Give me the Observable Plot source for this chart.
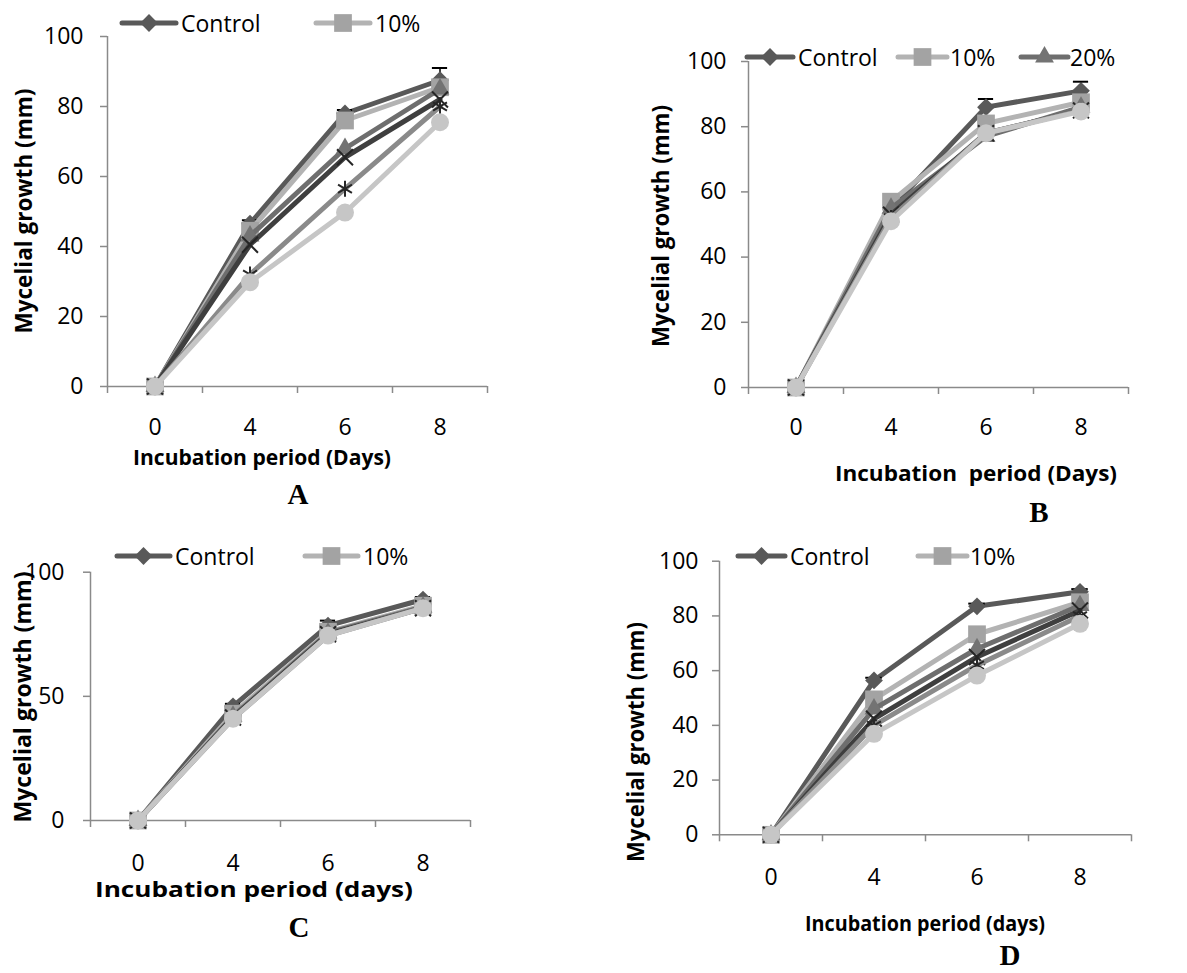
<!DOCTYPE html>
<html><head><meta charset="utf-8">
<script src="https://cdn.jsdelivr.net/npm/d3@7"></script>
<script src="https://cdn.jsdelivr.net/npm/@observablehq/plot@0.6"></script>
<style>
body{margin:0;background:#fff;}
#root{position:relative;width:1187px;height:973px;overflow:hidden;font-family:"Open Sans",sans-serif;}
.panel{position:absolute;}
#overlay{position:absolute;left:0;top:0;}
</style></head><body><div id="root"></div>
<script>
// ---------- data ----------
const days = [0, 4, 6, 8];
const seriesNames = ["Control", "10%", "20%", "30%", "40%", "50%"];
const yTicks100by20 = [0, 20, 40, 60, 80, 100];
const yTicks100by50 = [0, 50, 100];

// Panel A
const aControl = [0, 46.5, 78, 87.5];
const a10 = [0, 44.5, 76, 85.5];
const a20 = [0, 43, 68, 85];
const a30 = [0, 40.5, 65.5, 82];
const a40 = [0, 32, 56.5, 80];
const a50 = [0, 29.8, 49.7, 75.5];
const aControlErr = [0, 1, 1, 3.5];

// Panel B
const bControl = [0, 55, 86, 91];
const b10 = [0, 57, 81, 87.5];
const b20 = [0, 55, 77, 86];
const b30 = [0, 53, 78, 85];
const b40 = [0, 52, 78, 85];
const b50 = [0, 51, 78, 84.7];
const bControlErr = [0, 1, 2.5, 2.8];

// Panel C
const cControl = [0, 46, 78.5, 89];
const c10 = [0, 43, 76, 86.5];
const c20 = [0, 42, 75.5, 86];
const c30 = [0, 41.5, 75, 85.5];
const c40 = [0, 41, 74.5, 85.5];
const c50 = [0, 41, 74.5, 85.5];
const cControlErr = [0, 1, 2, 1];

// Panel D
const dControl = [0, 56.4, 83.5, 88.8];
const d10 = [0, 49.5, 73.3, 85];
const d20 = [0, 46, 68, 83.8];
const d30 = [0, 42.4, 65, 82];
const d40 = [0, 40, 62, 80];
const d50 = [0, 36.9, 58.2, 77.1];
const dControlErr = [0, 1, 1, 1];

// ---------- styles ----------
const AX = "#8a8a8a";
const lineColors = ["#595959", "#b3b3b3", "#6e6e6e", "#3f3f3f", "#8a8a8a", "#c6c6c6"];
const markerFill = ["#595959", "#a3a3a3", "#737373", "none", "none", "#c6c6c6"];
const markerStroke = ["none", "none", "none", "#262626", "#262626", "none"];
const symbols = ["diamond2", "square", "triangle", "times", "asterisk", "circle"];
const d3symbols = [d3.symbolDiamond2, d3.symbolSquare, d3.symbolTriangle, d3.symbolTimes, d3.symbolAsterisk, d3.symbolCircle];
const radii = [8, 10, 7, 7.3, 7.6, 9];

const root = document.getElementById("root");

function makePanel(cfg) {
  const marks = [
    Plot.ruleY([0], {x1: -0.5, x2: 3.5, stroke: AX, strokeWidth: 1.5}),
    Plot.ruleX([-0.5], {y1: 0, y2: 100, stroke: AX, strokeWidth: 1.5}),
    Plot.axisY({ticks: cfg.yTicks, tickSize: 7, tickPadding: cfg.yPad, stroke: AX, strokeWidth: 1.5, fill: "#000", fontSize: 23, label: null, tickFormat: d => String(d)}),
    Plot.axisX({ticks: [-0.5, 0.5, 1.5, 2.5, 3.5], tickSize: 7, stroke: AX, strokeWidth: 1.5, tickFormat: () => "", label: null}),
    Plot.axisX({ticks: [0, 1, 2, 3], tickSize: 0, tickPadding: cfg.xPad, fill: "#000", fontSize: 23, tickFormat: i => String(days[i]), label: null})
  ];
  cfg.values.forEach((vals, k) => {
    const data = days.map((d, i) => ({i, day: d, v: vals[i], series: seriesNames[k]}));
    marks.push(Plot.line(data, {x: "i", y: "v", stroke: lineColors[k], strokeWidth: 5, strokeLinejoin: "round", strokeLinecap: "round"}));
    if (k === 0 && cfg.err) {
      const ed = data.map((d, i) => ({...d, e: cfg.err[i]})).filter(d => d.e > 0);
      marks.push(Plot.ruleX(ed, {x: "i", y1: "v", y2: d => d.v + d.e, stroke: "#000", strokeWidth: 1.5}));
      marks.push(Plot.ruleY(ed, {y: d => d.v + d.e, x1: d => d.i - 0.08, x2: d => d.i + 0.08, stroke: "#000", strokeWidth: 2}));
    }
    marks.push(Plot.dot(data, {x: "i", y: "v", symbol: symbols[k], r: radii[k], fill: markerFill[k], stroke: markerStroke[k], strokeWidth: 2}));
  });
  const chart = Plot.plot({
    width: cfg.width, height: cfg.height,
    marginLeft: cfg.mL, marginRight: cfg.mR, marginTop: cfg.mT, marginBottom: cfg.mB,
    x: {domain: [-0.5, 3.5], axis: null},
    y: {domain: [0, 100], axis: null},
    style: {fontFamily: "'Open Sans', sans-serif", fontSize: "23px", color: "#000", background: "none", overflow: "visible"},
    marks
  });
  const div = document.createElement("div");
  div.className = "panel";
  div.style.left = cfg.left + "px";
  div.style.top = cfg.top + "px";
  div.appendChild(chart);
  root.appendChild(div);
}

makePanel({left: 0, top: 0, width: 500, height: 480, mL: 107, mR: 13, mT: 36, mB: 94,
  values: [aControl, a10, a20, a30, a40, a50], err: aControlErr, yTicks: yTicks100by20, yPad: 17, xPad: 32});
makePanel({left: 600, top: 0, width: 587, height: 540, mL: 148, mR: 59, mT: 61, mB: 153,
  values: [bControl, b10, b20, b30, b40, b50], err: bControlErr, yTicks: yTicks100by20, yPad: 15, xPad: 31});
makePanel({left: 0, top: 540, width: 500, height: 433, mL: 90, mR: 30, mT: 31.7, mB: 153,
  values: [cControl, c10, c20, c30, c40, c50], err: cControlErr, yTicks: yTicks100by50, yPad: 19, xPad: 34});
makePanel({left: 600, top: 540, width: 587, height: 433, mL: 119, mR: 56, mT: 20.7, mB: 138.7,
  values: [dControl, d10, d20, d30, d40, d50], err: dControlErr, yTicks: yTicks100by20, yPad: 14, xPad: 34});

// ---------- overlay: titles, legends, panel letters ----------
const svg = d3.select(root).append("svg").attr("id", "overlay")
  .attr("width", 1187).attr("height", 973)
  .style("font-family", "'Open Sans', sans-serif");

const yTitles = [
  {x: 23, y: 211, len: 245}, {x: 660, y: 226, len: 242},
  {x: 22, y: 697, len: 251}, {x: 635, y: 742, len: 240}
];
yTitles.forEach(t => {
  svg.append("text").attr("transform", `translate(${t.x},${t.y}) rotate(-90)`)
    .attr("text-anchor", "middle").attr("dominant-baseline", "central")
    .attr("font-weight", "bold").attr("font-size", 23)
    .attr("textLength", t.len).attr("lengthAdjust", "spacingAndGlyphs")
    .text("Mycelial growth (mm)");
});

const xTitles = [
  {x: 262, y: 457, len: 258, fs: 21, text: "Incubation period (Days)"},
  {x: 976, y: 473, len: 282, fs: 21, text: "Incubation  period (Days)"},
  {x: 254, y: 889, len: 318, fs: 21, text: "Incubation period (days)"},
  {x: 925, y: 923, len: 240, fs: 21, text: "Incubation period (days)"}
];
xTitles.forEach(t => {
  svg.append("text").attr("x", t.x).attr("y", t.y)
    .attr("text-anchor", "middle").attr("dominant-baseline", "central")
    .attr("font-weight", "bold").attr("font-size", t.fs)
    .attr("textLength", t.len).attr("lengthAdjust", "spacingAndGlyphs")
    .style("white-space", "pre")
    .text(t.text);
});

const letters = [
  {x: 298, y: 494, t: "A"}, {x: 1039, y: 512, t: "B"},
  {x: 299, y: 927, t: "C"}, {x: 1010, y: 955, t: "D"}
];
letters.forEach(l => {
  svg.append("text").attr("x", l.x).attr("y", l.y)
    .attr("text-anchor", "middle").attr("dominant-baseline", "central")
    .attr("font-family", "'Liberation Serif', serif").attr("font-weight", "bold").attr("font-size", 29)
    .text(l.t);
});

const legends = [
  {y: 23, items: [{k: 0, x1: 122, x2: 176, tx: 181}, {k: 1, x1: 316, x2: 370, tx: 375}]},
  {y: 57, items: [{k: 0, x1: 747, x2: 793, tx: 798}, {k: 1, x1: 898, x2: 947, tx: 950}, {k: 2, x1: 1021, x2: 1068, tx: 1070}]},
  {y: 556, items: [{k: 0, x1: 117, x2: 170, tx: 175}, {k: 1, x1: 305, x2: 358, tx: 363}]},
  {y: 556, items: [{k: 0, x1: 738, x2: 785, tx: 790}, {k: 1, x1: 918, x2: 967, tx: 970}]}
];
legends.forEach(lg => {
  lg.items.forEach(it => {
    const k = it.k;
    svg.append("line").attr("x1", it.x1).attr("x2", it.x2).attr("y1", lg.y).attr("y2", lg.y)
      .attr("stroke", lineColors[k]).attr("stroke-width", 5).attr("stroke-linecap", "round");
    svg.append("path")
      .attr("transform", `translate(${(it.x1 + it.x2) / 2},${lg.y})`)
      .attr("d", d3.symbol(d3symbols[k], Math.PI * radii[k] * radii[k])())
      .attr("fill", markerFill[k]).attr("stroke", markerStroke[k]);
    svg.append("text").attr("x", it.tx).attr("y", lg.y)
      .attr("dominant-baseline", "central").attr("font-size", 23)
      .text(seriesNames[k]);
  });
});
</script></body></html>
